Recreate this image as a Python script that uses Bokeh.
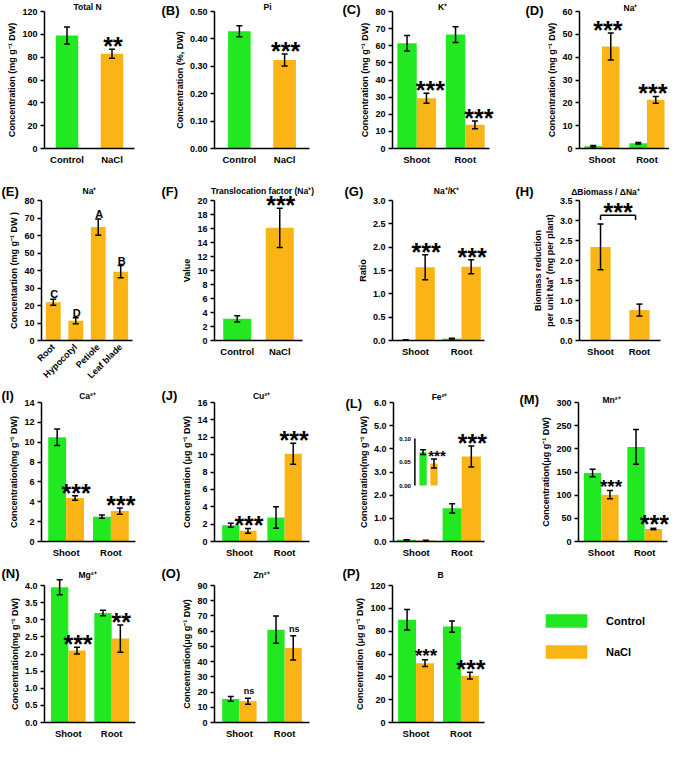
import math
from bokeh.plotting import figure
from bokeh.layouts import row, column
from bokeh.models import (ColumnDataSource, Range1d, FixedTicker, NumeralTickFormatter,
                          Legend, LegendItem)
from bokeh.transform import factor_cmap
from bokeh.core.properties import value
from bokeh.embed import file_html
from bokeh.resources import INLINE

# ---------------- data ----------------
treatments = ["Control", "NaCl"]
tissues = ["Shoot", "Root"]

total_n_mean = [99.0, 83.0]
total_n_err = [7.5, 4.0]
total_n_sig = ["", "**"]

pi_mean = [0.428, 0.323]
pi_err = [0.020, 0.022]
pi_sig = ["", "***"]

k_ctrl = [61.5, 66.5]
k_ctrl_err = [4.5, 4.6]
k_nacl = [29.3, 13.8]
k_nacl_err = [2.9, 2.2]
k_sig = ["***", "***"]

na_ctrl = [1.0, 2.3]
na_ctrl_err = [0.3, 0.3]
na_nacl = [44.7, 21.3]
na_nacl_err = [5.9, 1.5]
na_sig = ["***", "***"]

organs = ["Root", "Hypocotyl", "Petiole", "Leaf blade"]
organ_na = [21.9, 11.3, 64.8, 39.3]
organ_na_err = [1.7, 1.7, 4.7, 3.5]
organ_letters = ["C", "D", "A", "B"]

tf_mean = [3.1, 16.1]
tf_err = [0.45, 2.8]
tf_sig = ["", "***"]

ratio_ctrl = [0.01, 0.04]
ratio_ctrl_err = [0.004, 0.006]
ratio_nacl = [1.57, 1.58]
ratio_nacl_err = [0.27, 0.15]
ratio_sig = ["***", "***"]

bio_mean = [2.34, 0.76]
bio_err = [0.57, 0.15]
bio_sig = "***"

ca_ctrl = [10.5, 2.5]
ca_ctrl_err = [0.84, 0.16]
ca_nacl = [4.38, 3.06]
ca_nacl_err = [0.23, 0.31]
ca_sig = ["***", "***"]

cu_ctrl = [1.87, 2.76]
cu_ctrl_err = [0.23, 1.23]
cu_nacl = [1.23, 10.1]
cu_nacl_err = [0.27, 1.22]
cu_sig = ["***", "***"]

fe_ctrl = [0.071, 1.43]
fe_ctrl_err = [0.005, 0.2]
fe_nacl = [0.047, 3.67]
fe_nacl_err = [0.0095, 0.45]
fe_sig = ["", "***"]
fe_inset_sig = ["", "***"]
fe_inset_ticks = [0.00, 0.05, 0.10]

mn_ctrl = [148.0, 204.0]
mn_ctrl_err = [8.0, 37.5]
mn_nacl = [101.0, 27.0]
mn_nacl_err = [9.0, 1.5]
mn_sig = ["***", "***"]

mg_ctrl = [3.95, 3.2]
mg_ctrl_err = [0.22, 0.08]
mg_nacl = [2.1, 2.45]
mg_nacl_err = [0.1, 0.4]
mg_sig = ["***", "**"]

zn_ctrl = [15.5, 61.0]
zn_ctrl_err = [1.5, 9.0]
zn_nacl = [14.0, 49.0]
zn_nacl_err = [2.0, 8.0]
zn_sig = ["ns", "ns"]

b_ctrl = [90.0, 84.0]
b_ctrl_err = [9.0, 5.0]
b_nacl = [52.0, 41.0]
b_nacl_err = [3.0, 3.0]
b_sig = ["***", "***"]

# ---------------- style / layout ----------------
GREEN = "#22E822"
ORANGE = "#FBB416"
FONT = "Liberation Sans"
ROW_H = [182, 204, 178, 178]
COL_W = [160, 170, 170, 169]
ROW_FRAME = [(11, 137), (18, 140), (16, 139), (21, 137)]   # (axis top, axis height) in px


class Panel:
    def __init__(self, r, c, left, fw, ytop, d0, d1, ticks, fmt, ylabel, xcats,
                 xfs="9.5px"):
        cw, ch = COL_W[c], ROW_H[r]
        top, fh = ROW_FRAME[r]
        self.sx = fw / (d1 - d0)
        self.sy = fh / ytop
        self.xr = Range1d(d0 - left / self.sx, d0 + (cw - left) / self.sx)
        self.yr = Range1d(-(ch - top - fh) / self.sy, ytop + top / self.sy)
        p = figure(width=cw, height=ch, x_range=self.xr, y_range=self.yr,
                   output_backend="svg", toolbar_location=None, min_border=0)
        p.outline_line_color = None
        p.grid.visible = False
        xa, ya = p.xaxis[0], p.yaxis[0]
        xa.ticker = FixedTicker(ticks=list(range(len(xcats))), minor_ticks=[])
        xa.major_label_overrides = {i: n for i, n in enumerate(xcats)}
        xa.fixed_location = 0
        xa.bounds = (d0, d1)
        ya.fixed_location = d0
        ya.bounds = (0, ytop)
        ya.ticker = FixedTicker(ticks=ticks, minor_ticks=[])
        ya.formatter = NumeralTickFormatter(format=fmt)
        ya.axis_label = ylabel
        for ax in (xa, ya):
            ax.axis_line_width = 1.5
            ax.axis_line_color = "black"
            ax.major_tick_line_width = 1.5
            ax.major_tick_line_color = "black"
            ax.major_label_text_font = FONT
            ax.major_label_text_font_style = "bold"
            ax.major_label_text_color = "black"
            ax.minor_tick_line_color = None
        ya.major_tick_out = 4
        ya.major_tick_in = 0
        ya.major_label_text_font_size = "9px"
        ya.major_label_standoff = 3
        ya.axis_label_text_font = FONT
        ya.axis_label_text_font_size = "9px"
        ya.axis_label_text_font_style = "bold"
        ya.axis_label_text_color = "black"
        ya.axis_label_standoff = 2
        xa.major_tick_line_color = None
        xa.major_tick_out = 0
        xa.major_tick_in = 0
        xa.major_label_text_font_size = xfs
        xa.major_label_standoff = 5
        self.p = p

    def px(self, x):
        return self.xr.start + x / self.sx

    def py(self, y):
        return self.yr.end - y / self.sy

    def text(self, x, y, t, size, align="center"):
        self.p.text(x=[self.px(x)], y=[self.py(y)], text=[t], text_font=value(FONT),
                    text_font_size=size, text_font_style="bold", text_align=align,
                    text_baseline="middle", text_color="black")

    def annotate(self, letter, lx, ly, title, tx, ty):
        if letter:
            self.text(lx, ly, letter, "13px", align="left")
        self.text(tx, ty, title, "8.5px")


def errbars(p, xs, lo, hi, src, **kw):
    p.segment(x0=xs, y0=lo, x1=xs, y1=hi, source=src, line_color="black", line_width=1.5, **kw)
    for end in (lo, hi):
        p.scatter(x=xs, y=end, marker="dash", size=6, line_width=1.5, line_color="black",
                  source=src, **kw)


def stars(p, xs, y, txt, src, size="25px", yoff=-3, xoff=1, **kw):
    p.text(x=xs, y=y, text=txt, source=src, text_font=value(FONT), text_font_size=size,
           text_font_style="bold", text_align="center", text_baseline="alphabetic",
           x_offset=xoff, y_offset=yoff, text_color="black", **kw)


def grouped(r, c, left, fw, ytop, ticks, fmt, ylabel, ctrl, ctrl_err, nacl, nacl_err, sig,
            w=0.4, pad=0.06, sizes=("25px", "25px"), yoffs=(-3, -3), xoff=1):
    n = len(tissues)
    P = Panel(r, c, left, fw, ytop, -0.5 - pad / 2, n - 0.5 + pad / 2, ticks, fmt, ylabel, tissues)
    p = P.p
    idx = list(range(n))
    for vals, errs, off, color in ((ctrl, ctrl_err, -w / 2, GREEN), (nacl, nacl_err, w / 2, ORANGE)):
        src = ColumnDataSource(dict(x=[i + off for i in idx], m=vals,
                                    lo=[a - b for a, b in zip(vals, errs)],
                                    hi=[a + b for a, b in zip(vals, errs)]))
        p.vbar(x="x", top="m", width=w, source=src, fill_color=color, line_color=None)
        errbars(p, "x", "lo", "hi", src)
    for i in idx:
        sub = ColumnDataSource(dict(x=[i + w / 2], y=[nacl[i] + nacl_err[i]], s=[sig[i]]))
        stars(p, "x", "y", "s", sub, size=sizes[i], yoff=yoffs[i], xoff=xoff)
    return P


def single(r, c, left, fw, ytop, ticks, fmt, ylabel, cats, mean, err, sig, w=0.5, pad=0.05,
           colors=(GREEN, ORANGE), star_size="25px", yoff=-3, xfs="9.5px"):
    n = len(cats)
    P = Panel(r, c, left, fw, ytop, -0.5 - pad / 2, n - 0.5 + pad / 2, ticks, fmt, ylabel, cats,
              xfs=xfs)
    p = P.p
    src = ColumnDataSource(dict(x=list(range(n)), cat=cats, m=mean,
                                lo=[a - b for a, b in zip(mean, err)],
                                hi=[a + b for a, b in zip(mean, err)], s=sig))
    p.vbar(x="x", top="m", width=w, source=src,
           fill_color=factor_cmap("cat", palette=list(colors), factors=cats), line_color=None)
    errbars(p, "x", "lo", "hi", src)
    stars(p, "x", "hi", "s", src, size=star_size, yoff=yoff)
    return P


def rng(a, b, s):
    out, v = [], a
    while v <= b + 1e-9:
        out.append(round(v, 6))
        v += s
    return out


CONC_MG = "Concentration (mg g\u207b\u00b9 DW)"

# ---------------- row 1 ----------------
A = single(0, 0, 44, 90, 120, rng(0, 120, 20), "0", CONC_MG, treatments, total_n_mean,
           total_n_err, total_n_sig, pad=0.0)
A.annotate(None, 0, 0, "Total N", 87, 6)

B = single(0, 1, 54, 95, 0.5, rng(0, 0.5, 0.1), "0.00", "Concentration (%, DW)", treatments,
           pi_mean, pi_err, pi_sig, pad=0.1)
B.annotate("(B)", 1, 10, "Pi", 107, 6)

C = grouped(0, 2, 62, 97, 80, rng(0, 80, 10), "0", CONC_MG, k_ctrl, k_ctrl_err, k_nacl,
            k_nacl_err, k_sig, pad=0.0, xoff=4)
C.annotate("(C)", 12, 9, "K\u207a", 112, 6)

D = grouped(0, 3, 79, 90, 60, rng(0, 60, 10), "0", CONC_MG, na_ctrl, na_ctrl_err, na_nacl,
            na_nacl_err, na_sig, w=0.39, pad=0.0, xoff=-3)
D.annotate("(D)", 25, 10, "Na\u207a", 130, 7)

# ---------------- row 2 ----------------
E = single(1, 0, 41, 91, 80, rng(0, 80, 10), "0", "Concentartion (mg g\u207b\u00b9 DW )", organs,
           organ_na, organ_na_err, organ_letters, w=0.66, pad=0.05, colors=(ORANGE,) * 4,
           star_size="11px", yoff=-5, xfs="9px")
E.p.xaxis[0].major_label_orientation = math.pi / 4
E.annotate("(E)", 1, 9, "Na\u207a", 89, 8)

F = single(1, 1, 54, 88, 20, rng(0, 20, 2), "0", "Value", treatments, tf_mean, tf_err, tf_sig,
           w=0.66, pad=0.07)
F.annotate("(F)", 1, 9, "Translocation factor (Na\u207a)", 102, 8)

G = grouped(1, 2, 62, 92, 3.0, rng(0, 3.0, 0.5), "0.0", "Ratio", ratio_ctrl, ratio_ctrl_err,
            ratio_nacl, ratio_nacl_err, ratio_sig, w=0.42, pad=0.0)
G.annotate("(G)", 14, 9, "Na\u207a/K\u207a", 116, 8)

H = single(1, 3, 79, 81, 3.5, rng(0, 3.5, 0.5), "0.0",
           "Biomass reduction\nper unit Na\u207a (mg per plant)", tissues, bio_mean, bio_err,
           ["", ""], w=0.52, pad=0.08, colors=(ORANGE, ORANGE))
br_y = max(m + e for m, e in zip(bio_mean, bio_err)) + 0.22
br_x0, br_x1 = 0, len(tissues) - 1 - 0.1
br = ColumnDataSource(dict(x0=[br_x0, br_x0, br_x1], x1=[br_x1, br_x0, br_x1],
                           y0=[br_y, br_y, br_y], y1=[br_y, br_y - 0.12, br_y - 0.12]))
H.p.segment(x0="x0", y0="y0", x1="x1", y1="y1", source=br, line_color="black", line_width=1.5)
stars(H.p, "x", "y", "s", ColumnDataSource(dict(x=[(br_x0 + br_x1) / 2], y=[br_y], s=[bio_sig])),
      yoff=-3, xoff=0)
H.annotate("(H)", 15, 9, "\u0394Biomass / \u0394Na\u207a", 105, 9)

# ---------------- row 3 ----------------
I = grouped(2, 0, 41, 94, 14, rng(0, 14, 2), "0", "Concentration(mg g\u207b\u00b9 DW)", ca_ctrl,
            ca_ctrl_err, ca_nacl, ca_nacl_err, ca_sig, pad=0.1)
I.annotate("(I)", 1, 9, "Ca\u00b2\u207a", 87, 9)

J = grouped(2, 1, 54, 95, 16, rng(0, 16, 2), "0", "Concentration (\u03bcg g\u207b\u00b9 DW)",
            cu_ctrl, cu_ctrl_err, cu_nacl, cu_nacl_err, cu_sig, w=0.38, pad=0.1)
J.annotate("(J)", 1, 9, "Cu\u00b2\u207a", 101, 9)

L = grouped(2, 2, 63, 91, 6.0, rng(0, 6.0, 1.0), "0.0", "Concentration(mg g\u207b\u00b9 DW)",
            fe_ctrl, fe_ctrl_err, fe_nacl, fe_nacl_err, fe_sig, w=0.42, pad=0.0)
L.annotate("(L)", 15, 17, "Fe\u00b2\u207a", 109, 10)
# inset: shoot values on an enlarged scale (extra y range) inside the Shoot slot
iy0, iy1 = L.py(99), L.py(52)          # where 0.00 and 0.10 of the inset sit
k = (iy1 - iy0) / 0.1
L.p.extra_y_ranges = {"iy": Range1d((L.yr.start - iy0) / k, (L.yr.end - iy0) / k)}
ins = ColumnDataSource(dict(
    x=[0.15, 0.39], m=[fe_ctrl[0], fe_nacl[0]],
    lo=[fe_ctrl[0] - fe_ctrl_err[0], fe_nacl[0] - fe_nacl_err[0]],
    hi=[fe_ctrl[0] + fe_ctrl_err[0], fe_nacl[0] + fe_nacl_err[0]],
    col=[GREEN, ORANGE], s=fe_inset_sig))
L.p.vbar(x="x", top="m", width=0.16, fill_color="col", line_color=None, source=ins,
         y_range_name="iy")
errbars(L.p, "x", "lo", "hi", ins, y_range_name="iy")
stars(L.p, "x", "hi", "s", ins, size="15px", yoff=-3, xoff=3, y_range_name="iy")
iax = ColumnDataSource(dict(x=[-0.03] * len(fe_inset_ticks), y=fe_inset_ticks,
                            lab=["%.2f" % v for v in fe_inset_ticks]))
L.p.segment(x0=[-0.03], y0=[min(fe_inset_ticks)], x1=[-0.03], y1=[max(fe_inset_ticks)],
            line_color="black", line_width=1.5, y_range_name="iy")
L.p.text(x="x", y="y", text="lab", source=iax, text_font=value(FONT), text_font_size="6px",
         text_font_style="bold", text_align="right", text_baseline="middle", x_offset=-4,
         text_color="black", y_range_name="iy")

M = grouped(2, 3, 78, 89, 300, rng(0, 300, 50), "0", "Concentration(\u03bcg g\u207b\u00b9 DW)",
            mn_ctrl, mn_ctrl_err, mn_nacl, mn_nacl_err, mn_sig, pad=0.05,
            sizes=("19px", "25px"), yoffs=(-4, -4))
M.annotate("(M)", 19, 13, "Mn\u00b2\u207a", 111, 13)

# ---------------- row 4 ----------------
N = grouped(3, 0, 44, 91, 4.0, rng(0, 4.0, 0.5), "0.0", "Concentration(mg g\u207b\u00b9 DW)",
            mg_ctrl, mg_ctrl_err, mg_nacl, mg_nacl_err, mg_sig, pad=0.1)
N.annotate("(N)", 1, 9, "Mg\u00b2\u207a", 87, 10)

O = grouped(3, 1, 54, 95, 90, rng(0, 90, 10), "0", "Concentration(\u03bcg g\u207b\u00b9 DW)",
            zn_ctrl, zn_ctrl_err, zn_nacl, zn_nacl_err, zn_sig, w=0.38, pad=0.1,
            sizes=("9px", "9px"), yoffs=(-7, -7))
O.annotate("(O)", 1, 9, "Zn\u00b2\u207a", 101, 10)

P = grouped(3, 2, 62, 92, 120, rng(0, 120, 20), "0", "Concentration (\u03bcg g\u207b\u00b9 DW)",
            b_ctrl, b_ctrl_err, b_nacl, b_nacl_err, b_sig, pad=0.05, sizes=("19px", "25px"),
            yoffs=(-4, -3))
P.annotate("(P)", 12, 9, "B", 110, 10)

# legend cell
lg = figure(width=COL_W[3], height=ROW_H[3], x_range=(0, 1), y_range=(0, 1),
            output_backend="svg", toolbar_location=None, min_border=0,
            x_axis_location=None, y_axis_location=None)
lg.outline_line_color = None
lg.grid.visible = False
r1 = lg.vbar(x=[5], top=[1], width=0.1, fill_color=GREEN, line_color=None)
r2 = lg.vbar(x=[5], top=[1], width=0.1, fill_color=ORANGE, line_color=None)
leg = Legend(items=[LegendItem(label=treatments[0], renderers=[r1]),
                    LegendItem(label=treatments[1], renderers=[r2])],
             location=(40, 82), glyph_width=52, glyph_height=17, label_height=17, spacing=14,
             label_standoff=14, padding=0, margin=0, border_line_color=None,
             background_fill_alpha=0, label_text_font=FONT, label_text_font_size="11px",
             label_text_font_style="bold", label_text_color="black")
lg.add_layout(leg)

layout = column(row(A.p, B.p, C.p, D.p), row(E.p, F.p, G.p, H.p), row(I.p, J.p, L.p, M.p),
                row(N.p, O.p, P.p, lg))

open("out.html", "w").write(file_html(layout, INLINE))
